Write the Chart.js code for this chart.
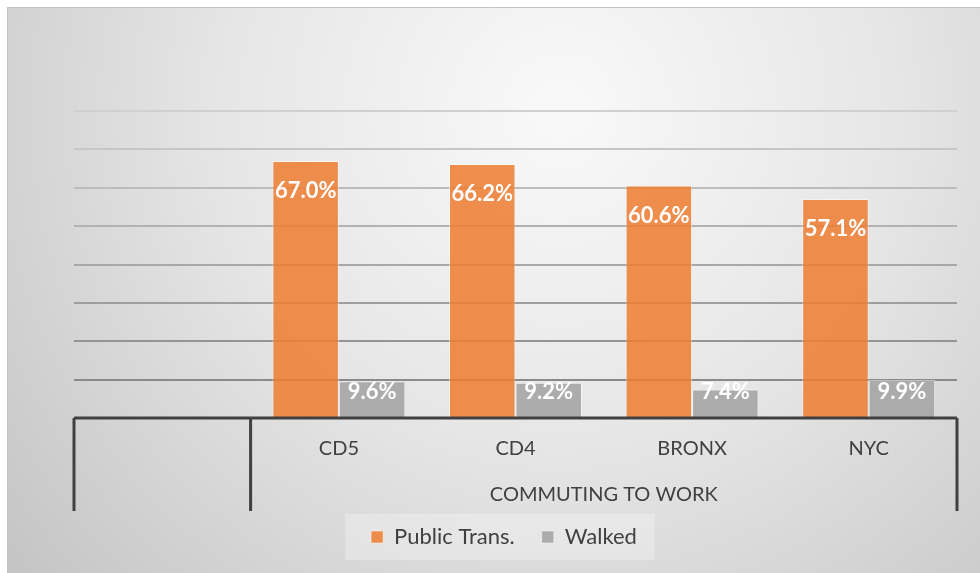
<!DOCTYPE html>
<html>
<head>
<meta charset="utf-8">
<script src="https://cdn.jsdelivr.net/npm/chart.js@4/dist/chart.umd.min.js"></script>
<style>
  html, body { margin: 0; padding: 0; background: #fff; }
  #wrap { width: 980px; height: 573px; }
</style>
</head>
<body>
<div id="wrap"><canvas id="myChart" width="980" height="573"></canvas></div>
<script>
// Data
const categories = ["", "CD5", "CD4", "BRONX", "NYC"];
const groupLabel = "COMMUTING TO WORK";
const publicTrans = [null, 67.0, 66.2, 60.6, 57.1];
const walked = [null, 9.6, 9.2, 7.4, 9.9];
const seriesNames = ["Public Trans.", "Walked"];

const textColor = "#404040";
const fontFamily = "Lato, 'Open Sans', sans-serif";

// Background, frame and legend box
const backdrop = {
  id: "backdrop",
  beforeDraw(chart) {
    const ctx = chart.ctx;
    const w = chart.width, h = chart.height;
    ctx.save();
    ctx.fillStyle = "#fff";
    ctx.fillRect(0, 0, w, h);
    const g = ctx.createRadialGradient(560, 110, 20, 560, 110, 720);
    g.addColorStop(0, "#f8f8f8");
    g.addColorStop(0.45, "#e6e6e6");
    g.addColorStop(1, "#c4c4c4");
    ctx.fillStyle = g;
    ctx.fillRect(7, 7, w - 7, h - 7);
    ctx.strokeStyle = "#c2c2c2";
    ctx.lineWidth = 1;
    ctx.beginPath();
    ctx.moveTo(7.5, h);
    ctx.lineTo(7.5, 7.5);
    ctx.lineTo(w, 7.5);
    ctx.stroke();

    // legend box
    const lg = chart.legend;
    if (lg && lg.legendHitBoxes && lg.legendHitBoxes.length) {
      const first = lg.legendHitBoxes[0];
      const last = lg.legendHitBoxes[lg.legendHitBoxes.length - 1];
      const left = first.left - 26;
      const right = last.left + last.width + 18;
      const cy = first.top + first.height / 2;
      ctx.fillStyle = "rgba(255,255,255,0.28)";
      ctx.fillRect(left, cy - 23, right - left, 46);
    }
    ctx.restore();
  },
};

// Multi-level category axis drawn under the plot
const multiAxis = {
  id: "multiAxis",
  afterDraw(chart) {
    const ctx = chart.ctx;
    const area = chart.chartArea;
    const x = chart.scales.x;
    const step = (area.right - area.left) / categories.length;
    const yb = area.bottom;
    ctx.save();
    ctx.strokeStyle = "#404040";
    ctx.lineWidth = 3;
    ctx.beginPath();
    ctx.moveTo(area.left, yb);
    ctx.lineTo(area.right, yb);
    [area.left, area.left + step, area.right].forEach((px) => {
      ctx.moveTo(px, yb);
      ctx.lineTo(px, yb + 93);
    });
    ctx.stroke();

    ctx.fillStyle = textColor;
    ctx.font = "20px " + fontFamily;
    ctx.textAlign = "center";
    ctx.textBaseline = "middle";
    categories.forEach((c, i) => {
      if (c) ctx.fillText(c, x.getPixelForValue(i), yb + 31);
    });
    ctx.fillText(groupLabel, (area.left + step + area.right) / 2, yb + 77);
    ctx.restore();
  },
};

// Value labels inside the bars
const barLabels = {
  id: "barLabels",
  afterDatasetsDraw(chart) {
    const ctx = chart.ctx;
    ctx.save();
    ctx.fillStyle = "#fff";
    ctx.font = "bold 22px " + fontFamily;
    ctx.textAlign = "center";
    ctx.textBaseline = "middle";
    chart.data.datasets.forEach((ds, di) => {
      chart.getDatasetMeta(di).data.forEach((bar, i) => {
        const v = ds.data[i];
        if (v == null) return;
        const y = di === 0 ? bar.y + 30 : bar.base - 25;
        ctx.fillText(v.toFixed(1) + "%", bar.x, y);
      });
    });
    ctx.restore();
  },
};

function gridColor(ctx) {
  const v = ctx.tick ? ctx.tick.value : 0;
  if (v === 0) return "rgba(0,0,0,0)";
  const t = (v - 10) / 70;
  const c = Math.round(138 + t * (208 - 138));
  return "rgb(" + c + "," + c + "," + c + ")";
}

const ctx = document.getElementById("myChart").getContext("2d");
new Chart(ctx, {
  type: "bar",
  data: {
    labels: categories,
    datasets: [
      {
        label: seriesNames[0],
        data: publicTrans,
        backgroundColor: "rgba(237,125,49,0.86)",
        borderColor: "rgba(255,255,255,0.45)",
        borderWidth: 1,
      },
      {
        label: seriesNames[1],
        data: walked,
        backgroundColor: "rgba(165,165,165,0.9)",
        borderColor: "rgba(255,255,255,0.45)",
        borderWidth: 1,
      },
    ],
  },
  options: {
    responsive: false,
    animation: false,
    layout: { padding: { left: 51, right: 23, top: 111, bottom: 15 } },
    datasets: { bar: { categoryPercentage: 0.753, barPercentage: 1 } },
    scales: {
      x: {
        ticks: { display: false },
        grid: { display: false },
        border: { display: false },
        afterFit: (s) => { s.height = 81; },
      },
      y: {
        min: 0,
        max: 80,
        ticks: { display: false, stepSize: 10 },
        border: { display: false },
        grid: { color: gridColor, lineWidth: 2, drawTicks: false },
        afterFit: (s) => { s.width = 23; },
      },
    },
    plugins: {
      tooltip: { enabled: false },
      legend: {
        position: "bottom",
        labels: {
          boxWidth: 12,
          boxHeight: 12,
          padding: 27,
          color: textColor,
          font: { size: 22, family: fontFamily },
        },
      },
    },
  },
  plugins: [backdrop, multiAxis, barLabels],
});
</script>
</body>
</html>
